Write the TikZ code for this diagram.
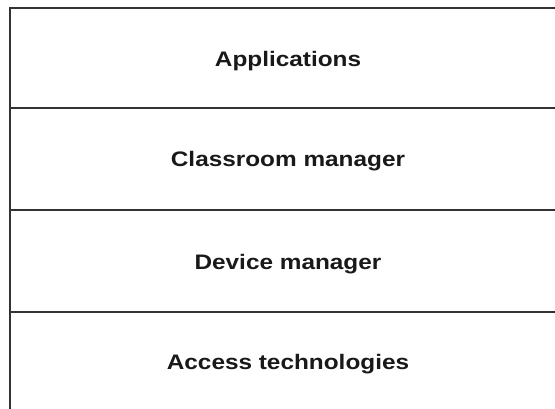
\documentclass[tikz,border=0pt]{standalone}
\usepackage{fontspec}
\setmainfont{Liberation Sans}
\begin{document}
\begin{tikzpicture}[x=1pt,y=1pt,
  layerline/.style={line width=2pt,draw=black!80},
  layertext/.style={font=\bfseries\fontsize{21}{24}\selectfont,text=black!90,inner sep=0pt}]
\useasboundingbox (0,0) rectangle (555,408);
\clip (0,0) rectangle (555,408);
\fill[white] (0,0) rectangle (555,408);
\coordinate (tl) at (10,400);
\coordinate (tr) at (560,400);
\coordinate (bl) at (10,-5);
\draw[layerline] (tr) -- (tl) -- (bl);
\coordinate (l1) at (10,300); \coordinate (r1) at (560,300);
\coordinate (l2) at (10,198); \coordinate (r2) at (560,198);
\coordinate (l3) at (10,96.5); \coordinate (r3) at (560,96.5);
\draw[layerline] (l1) -- (r1);
\draw[layerline] (l2) -- (r2);
\draw[layerline] (l3) -- (r3);
\node[layertext] (app) at (288,346.5) {\scalebox{1.16}[1]{Applications}};
\node[layertext] (cls) at (288,246.5) {\scalebox{1.16}[1]{Classroom manager}};
\node[layertext] (dev) at (288,143.5) {\scalebox{1.16}[1]{Device manager}};
\node[layertext] (acc) at (288,43.5) {\scalebox{1.16}[1]{Access technologies}};
\end{tikzpicture}
\end{document}
